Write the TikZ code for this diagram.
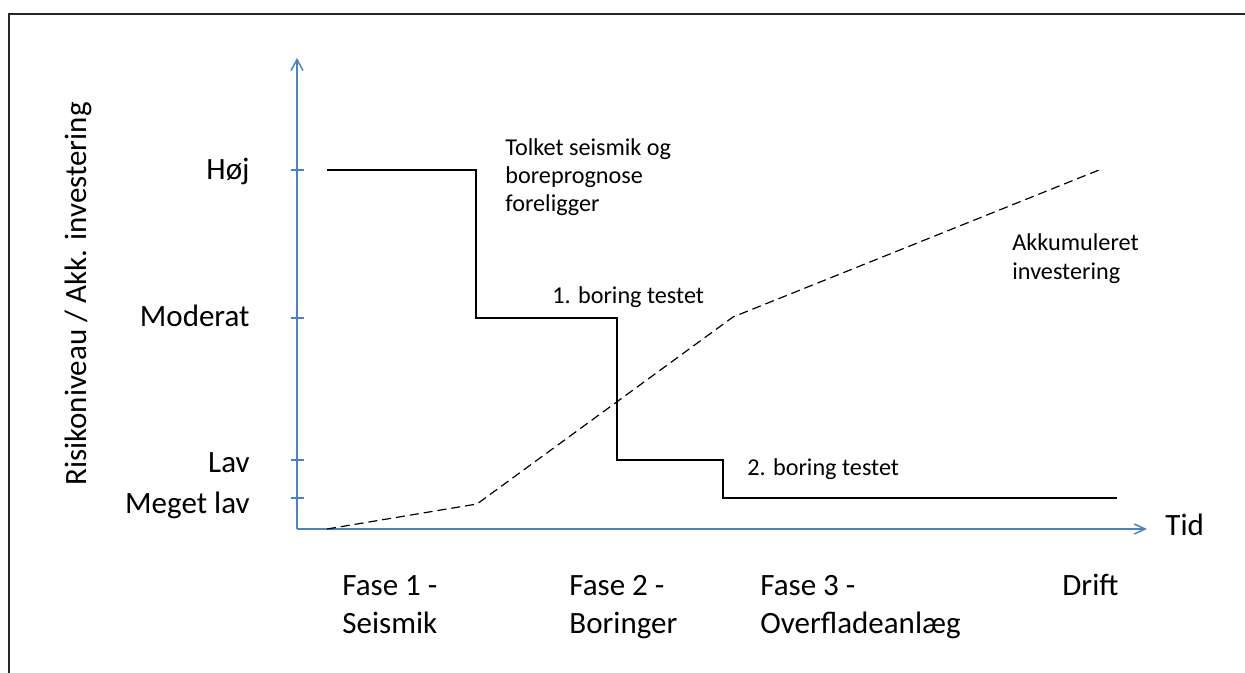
\documentclass[tikz,border=0pt]{standalone}
\usepackage{fontspec}
\setmainfont{Carlito}
\usetikzlibrary{arrows.meta}

\tikzset{
    axis/.style={draw=axisblue, line width=0.75pt},
    risk/.style={draw=black, line width=0.6pt},
    invest/.style={draw=black, line width=0.6pt, dash pattern=on 4.5pt off 2.5pt},
    biglabel/.style={inner sep=0pt, font=\fontsize{15.5}{19}\selectfont},
    smalllabel/.style={inner sep=0pt, align=left, font=\fontsize{12.1}{14}\selectfont},
}
\definecolor{axisblue}{HTML}{4F81BD}

\begin{document}
\begin{tikzpicture}[x=0.5pt, y=-0.5pt]

    % Frame
    \useasboundingbox (0,0) rectangle (1245,673);
    \draw[line width=1pt, black!85] (9,673) -- (9,14) -- (1245,14);

    % Axes
    \coordinate (origin) at (297,529);
    \coordinate (y_top) at (297,58);
    \coordinate (x_end) at (1147,529);
    \draw[axis, -{Straight Barb[length=5.5pt, width=6pt]}] (origin) -- (y_top);
    \draw[axis, -{Straight Barb[length=5.5pt, width=5pt]}] (origin) -- (x_end);
    \foreach \y in {170, 318, 460, 498} {
        \draw[axis] (291,\y) -- (304,\y);
    }

    % Axis labels
    \node (y_label) at (78,294) [biglabel, rotate=90] {Risikoniveau / Akk. investering};
    \node (x_label) at (1165,535) [biglabel, anchor=base west] {Tid};
    \node (high) at (250,180) [biglabel, anchor=base east] {Høj};
    \node (moderate) at (250,327) [biglabel, anchor=base east] {Moderat};
    \node (low) at (250,472) [biglabel, anchor=base east] {Lav};
    \node (very_low) at (250,513) [biglabel, anchor=base east] {Meget lav};

    % Phases
    \node (phase_one) at (342,633) [biglabel, anchor=base west, align=left] {Fase 1 -\\Seismik};
    \node (phase_two) at (569,633) [biglabel, anchor=base west, align=left] {Fase 2 -\\Boringer};
    \node (phase_three) at (760,633) [biglabel, anchor=base west, align=left] {Fase 3 -\\Overfladeanlæg};
    \node (operation) at (1062,595) [biglabel, anchor=base west] {Drift};

    % Risk level
    \coordinate (r0) at (327,170);
    \coordinate (r1) at (476,170);
    \coordinate (r2) at (476,318);
    \coordinate (r3) at (617,318);
    \coordinate (r4) at (617,460);
    \coordinate (r5) at (723,460);
    \coordinate (r6) at (723,498);
    \coordinate (r7) at (1117,498);
    \draw[risk] (r0) -- (r1) -- (r2) -- (r3) -- (r4) -- (r5) -- (r6) -- (r7);

    % Accumulated investment
    \coordinate (i0) at (327,529);
    \coordinate (i1) at (477,504);
    \coordinate (i2) at (733,317);
    \coordinate (i3) at (1099,170);
    \draw[invest] (i0) -- (i1) -- (i2) -- (i3);

    % Labels
    \node (seismic_done) at (505,212) [smalllabel, anchor=base west] {Tolket seismik og\\boreprognose\\foreligger};
    \node (first_well) at (552,303) [smalllabel, anchor=base west] {1. boring testet};
    \node (second_well) at (747,475) [smalllabel, anchor=base west] {2. boring testet};
    \node (invest_label) at (1012,279) [smalllabel, anchor=base west] {Akkumuleret\\investering};

\end{tikzpicture}
\end{document}
